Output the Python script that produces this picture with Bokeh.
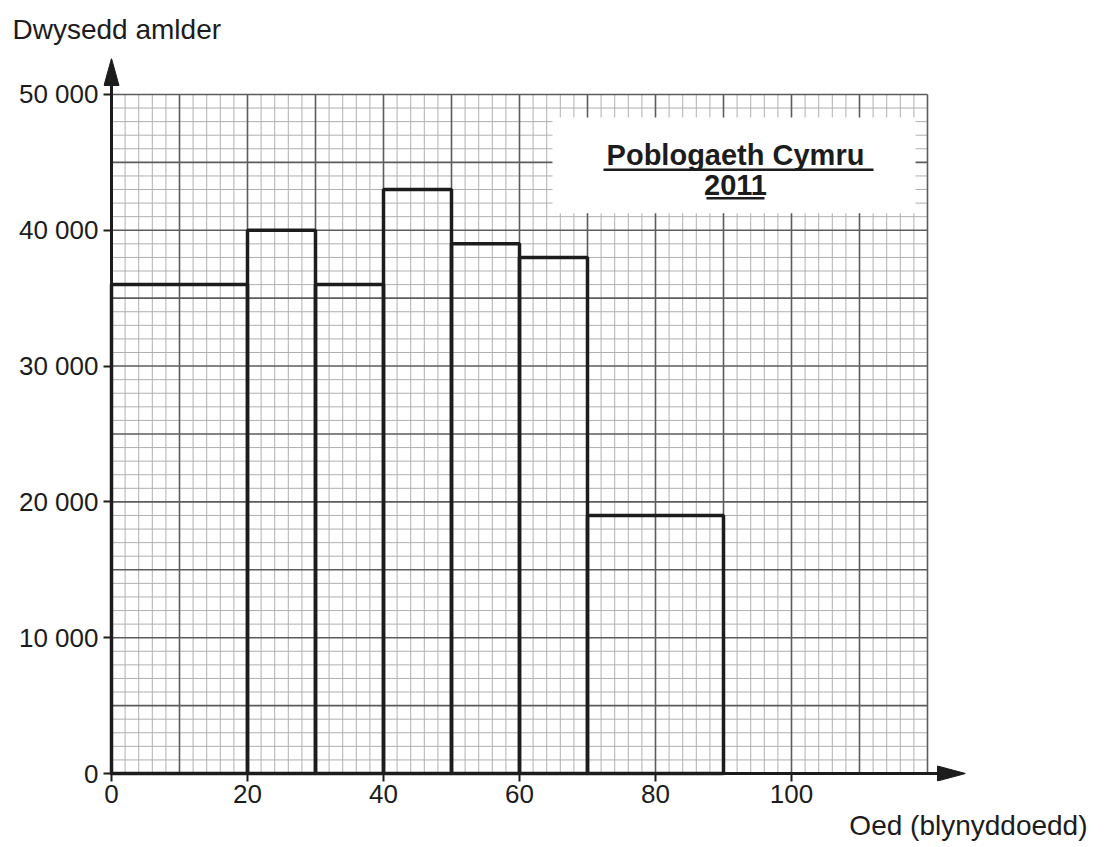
import numpy as np
from bokeh.plotting import figure
from bokeh.models import Range1d, FixedTicker, Title
from bokeh.core.properties import value
from bokeh.embed import file_html
from bokeh.resources import INLINE

# ---------------- data ----------------
class_start = [0, 20, 30, 40, 50, 60, 70]
class_end = [20, 30, 40, 50, 60, 70, 90]
freq_density = [36000, 40000, 36000, 43000, 39000, 38000, 19000]

x_tick_values = [0, 20, 40, 60, 80, 100]
x_tick_labels = ["0", "20", "40", "60", "80", "100"]
y_tick_values = [0, 10000, 20000, 30000, 40000, 50000]
y_tick_labels = ["0", "10 000", "20 000", "30 000", "40 000", "50 000"]

title_lines = ["Poblogaeth Cymru", "2011"]
x_title = "Oed (blynyddoedd)"
y_title = "Dwysedd amlder"

# ---------------- layout ----------------
W, H = 1100, 846
BL, BR, BT, BB = 103, 135, 58, 64
X0_PX, Y0_PX = 111, 774      # page position of the origin
PX_X = 6.8                   # px per year
PX_Y = 0.0136                # px per unit of density
X_START = -(X0_PX - BL) / PX_X
X_END = X_START + (W - BL - BR) / PX_X
Y_END = (Y0_PX - BT) / PX_Y
Y_START = Y_END - (H - BT - BB) / PX_Y
GRID_X, GRID_Y = 120, 50000


def dx(px):
    return (px - X0_PX) / PX_X


def dy(py):
    return (Y0_PX - py) / PX_Y


FONT = "Liberation Sans"
INK = "#1c1c1c"

p = figure(width=W, height=H, x_range=Range1d(X_START, X_END), y_range=Range1d(Y_START, Y_END),
           output_backend="svg", toolbar_location=None,
           min_border_left=BL, min_border_right=BR, min_border_top=BT, min_border_bottom=BB)
p.outline_line_color = None
p.xgrid.visible = False
p.ygrid.visible = False
p.background_fill_color = "white"
p.border_fill_color = "white"

# graph paper
gx_minor = np.array([v for v in np.arange(0, GRID_X + 1, 2) if v % 10 != 0])
gy_minor = np.array([v for v in np.arange(0, GRID_Y + 1, 1000) if v % 5000 != 0])
gx_major = np.arange(10, GRID_X + 1, 10)
gy_major = np.arange(5000, GRID_Y + 1, 5000)
p.segment(x0=gx_minor, y0=0, x1=gx_minor, y1=GRID_Y, line_color="#b0b0b0", line_width=1)
p.segment(x0=0, y0=gy_minor, x1=GRID_X, y1=gy_minor, line_color="#b0b0b0", line_width=1)
p.segment(x0=gx_major, y0=0, x1=gx_major, y1=GRID_Y, line_color="#5c5c5c", line_width=1.6)
p.segment(x0=0, y0=gy_major, x1=GRID_X, y1=gy_major, line_color="#5c5c5c", line_width=1.6)

# title box
p.quad(left=dx(552), right=dx(915), top=dy(117), bottom=dy(213), fill_color="white", line_color=None)
p.text(x=[dx(735), dx(735)], y=[dy(155), dy(184.5)], text=title_lines,
       text_font=value(FONT), text_font_style="bold", text_font_size="29px",
       text_align="center", text_baseline="alphabetic", text_color=INK)
p.segment(x0=[dx(603), dx(706)], y0=[dy(169.5), dy(198)], x1=[dx(873), dx(764)], y1=[dy(169.5), dy(198)],
          line_color=INK, line_width=2.5)

# histogram bars
p.quad(left=class_start, right=class_end, bottom=0, top=freq_density,
       fill_color=None, line_color=INK, line_width=3.5)

# axis lines with arrow heads
p.segment(x0=[0, 0], y0=[0, 0], x1=[0, X_END - 20 / PX_X], y1=[Y_END - 20 / PX_Y, 0],
          line_color=INK, line_width=3, line_cap="square")
p.patches(xs=[[-7.5 / PX_X, 0, 7.5 / PX_X], [X_END - 28 / PX_X, X_END, X_END - 28 / PX_X]],
          ys=[[Y_END - 27 / PX_Y, Y_END, Y_END - 27 / PX_Y], [-7.5 / PX_Y, 0, 7.5 / PX_Y]],
          fill_color=INK, line_color=INK, line_width=1)

# axes (ticks pointing in from the frame edge up to the drawn axis lines)
for ax in (p.xaxis[0], p.yaxis[0]):
    ax.axis_line_color = None
    ax.major_tick_in = 8
    ax.major_tick_out = 0
    ax.major_tick_line_width = 2
    ax.major_tick_line_color = INK
    ax.minor_tick_line_color = None
    ax.major_label_text_font = FONT
    ax.major_label_text_font_size = "26px"
    ax.major_label_text_color = INK

p.xaxis.ticker = FixedTicker(ticks=x_tick_values)
p.xaxis.major_label_overrides = {v: t for v, t in zip(x_tick_values, x_tick_labels)}
p.xaxis.major_label_standoff = 3
p.yaxis.ticker = FixedTicker(ticks=y_tick_values)
p.yaxis.major_label_overrides = {v: t for v, t in zip(y_tick_values, y_tick_labels)}
p.yaxis.major_label_standoff = 5

# axis titles
p.title.text = y_title
p.title.align = "left"
p.title.offset = -91
p.title.vertical_align = "top"
p.title.standoff = 24
p.title.text_font = FONT
p.title.text_font_size = "28px"
p.title.text_font_style = "normal"
p.title.text_color = INK

p.add_layout(Title(text=x_title, align="right", offset=-122, vertical_align="top", standoff=8,
                   text_font=FONT, text_font_size="28px", text_font_style="normal",
                   text_color=INK), "below")

open("out.html", "w").write(file_html(p, INLINE))
